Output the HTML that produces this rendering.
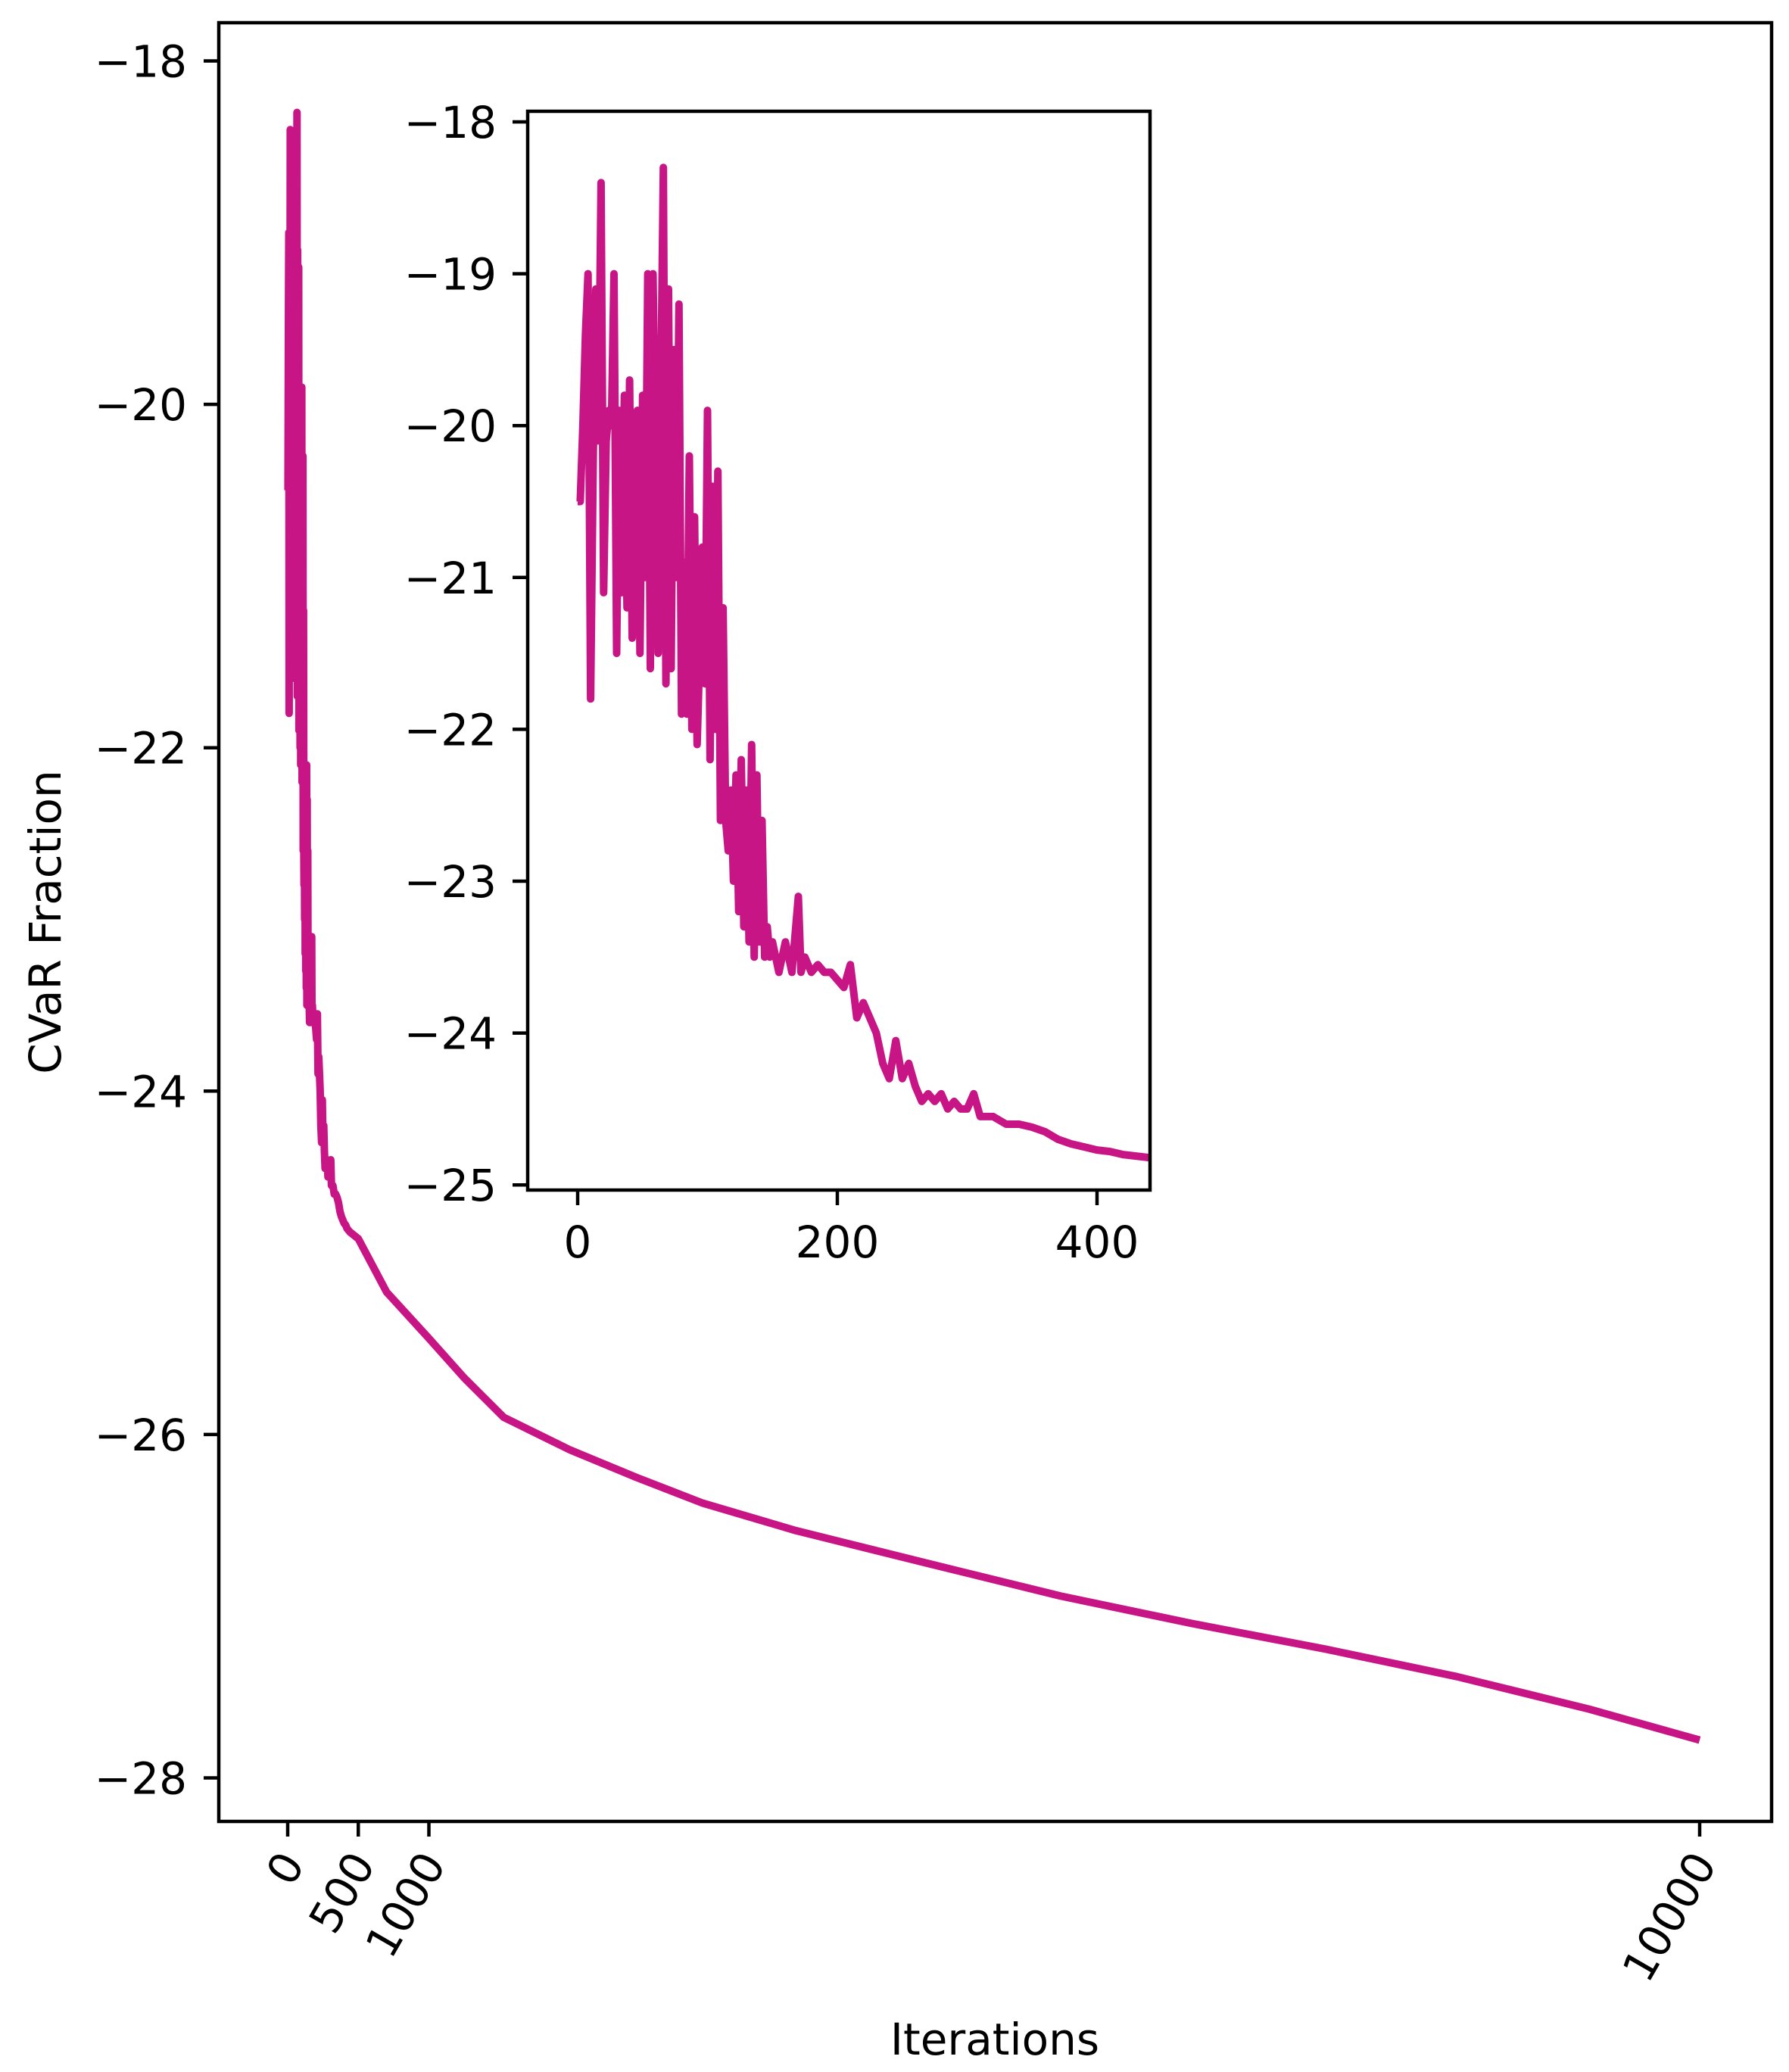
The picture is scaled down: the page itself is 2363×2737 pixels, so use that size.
<!DOCTYPE html>
<html><head><meta charset="utf-8"><style>
html,body{margin:0;padding:0;background:#fff;}
svg text{font-family:"DejaVu Sans","Liberation Sans",sans-serif;font-size:58px;fill:#000;}
</style></head><body>
<svg id="chart" width="2363" height="2732" viewBox="0 0 2363 2732" xmlns="http://www.w3.org/2000/svg">
<defs><clipPath id="mainClip"><rect x="289" y="30" width="2051" height="2376"/></clipPath>
<clipPath id="insetClip"><rect x="697" y="147" width="822" height="1425"/></clipPath></defs>
<g id="main"></g>
<g id="inset"></g>
<text transform="translate(80,1218) rotate(-90)" text-anchor="middle">CVaR Fraction</text>
<text x="1314" y="2714" text-anchor="middle">Iterations</text>
</svg>
<script>
const iters = [0,2,4,6,8,10,12,14,16,18,20,22,24,26,28,30,32,34,36,38,40,42,44,46,48,50,52,54,56,58,60,62,64,66,68,70,72,74,76,78,80,82,84,86,88,90,92,94,96,98,100,102,104,106,108,110,112,114,116,118,120,122,124,126,128,130,132,134,136,138,140,142,144,146,148,150,155,160,165,170,172,175,180,185,190,195,200,205,210,215,220,225,230,235,240,245,250,255,260,265,270,275,280,285,290,295,300,305,310,320,330,340,350,360,370,380,390,400,410,420,430,440,500,700,1000,1250,1530,2000,2470,2940,3600,4530,5470,6400,7350,8280,9220,10000];
const values = [-20.5,-20.5,-20.0,-19.4,-19.0,-21.8,-20.2,-19.1,-20.1,-18.4,-21.1,-20.1,-19.9,-20.0,-19.0,-21.5,-19.9,-21.1,-19.8,-21.2,-19.7,-21.4,-20.0,-19.9,-21.5,-19.8,-21.0,-19.0,-21.6,-19.0,-20.2,-21.5,-19.8,-18.3,-21.7,-19.1,-21.6,-19.5,-21.0,-19.2,-21.9,-20.9,-21.9,-20.2,-22.0,-20.6,-22.1,-21.5,-20.8,-21.7,-19.9,-22.2,-20.4,-22.0,-20.3,-22.6,-21.2,-22.6,-22.8,-22.4,-23.0,-22.3,-23.2,-22.2,-23.3,-22.4,-23.4,-22.1,-23.5,-22.3,-23.4,-22.6,-23.5,-23.3,-23.5,-23.4,-23.6,-23.4,-23.6,-23.1,-23.6,-23.5,-23.6,-23.55,-23.6,-23.6,-23.65,-23.7,-23.55,-23.9,-23.8,-23.9,-24.0,-24.2,-24.3,-24.05,-24.3,-24.2,-24.35,-24.45,-24.4,-24.45,-24.4,-24.5,-24.45,-24.5,-24.5,-24.4,-24.55,-24.55,-24.6,-24.6,-24.62,-24.65,-24.7,-24.73,-24.75,-24.77,-24.78,-24.8,-24.81,-24.82,-24.86,-25.17,-25.44,-25.67,-25.9,-26.09,-26.25,-26.4,-26.56,-26.75,-26.94,-27.1,-27.25,-27.41,-27.6,-27.78];
const mainYTicks = [-18,-20,-22,-24,-26,-28];
const mainXTicks = [0,500,1000,10000];
const insetYTicks = [-18,-19,-20,-21,-22,-23,-24,-25];
const insetXTicks = [0,200,400];
const NS = 'http://www.w3.org/2000/svg';
const COLOR = '#c71585';
function mk(tag, attrs, parent){const e=document.createElementNS(NS,tag);for(const k in attrs)e.setAttribute(k,attrs[k]);parent.appendChild(e);return e;}
function fmt(v){return v<0?'\u2212'+Math.abs(v):String(v);}

const mx = v => 380 + (v-0)*(2245-380)/10000;
const my = v => 80.5 + (-18 - v)*226.8;
const gm = document.getElementById('main');
let d = iters.map((t,i)=>(i?'L':'M')+mx(t).toFixed(1)+','+my(values[i]).toFixed(1)).join(' ');
const ml = mk('path',{d:d,fill:'none',stroke:COLOR,'stroke-width':10,'stroke-linejoin':'round','clip-path':'url(#mainClip)'},gm);


const mf = mk('rect',{x:289,y:30,width:2051,height:2376,fill:'none',stroke:'#000','stroke-width':4.5},gm);


mainYTicks.forEach(v=>{
  const y=my(v);
  const t=mk('line',{x1:269,x2:289,y1:y,y2:y,stroke:'#000','stroke-width':4.5},gm);
  
  
  const l=mk('text',{x:247,y:y+21,'text-anchor':'end'},gm);l.textContent=fmt(v);
  
  
});
mainXTicks.forEach(v=>{
  const x=mx(v);
  const t=mk('line',{x1:x,x2:x,y1:2406,y2:2426,stroke:'#000','stroke-width':4.5},gm);
  
  
  const l=mk('text',{transform:'translate('+(x+6)+',2452) rotate(-60)','text-anchor':'end',dy:'0.35em'},gm);l.textContent=String(v);
  
  
});

const ix = v => 763 + v*(1449-763)/400;
const iy = v => 161 + (-18 - v)*200.6;
const gi = document.getElementById('inset');
mk('rect',{x:697,y:147,width:822,height:1425,fill:'#fff'},gi);
d = iters.filter(t=>t<=460).map((t,i)=>(i?'L':'M')+ix(t).toFixed(1)+','+iy(values[i]).toFixed(1)).join(' ');
const il = mk('path',{d:d,fill:'none',stroke:COLOR,'stroke-width':10,'stroke-linejoin':'round','clip-path':'url(#insetClip)'},gi);


const inf = mk('rect',{x:697,y:147,width:822,height:1425,fill:'none',stroke:'#000','stroke-width':4.5},gi);


insetYTicks.forEach(v=>{
  const y=iy(v);
  const t=mk('line',{x1:677,x2:697,y1:y,y2:y,stroke:'#000','stroke-width':4.5},gi);
  
  
  const l=mk('text',{x:656,y:y+21,'text-anchor':'end'},gi);l.textContent=fmt(v);
  
  
});
insetXTicks.forEach(v=>{
  const x=ix(v);
  const t=mk('line',{x1:x,x2:x,y1:1572,y2:1592,stroke:'#000','stroke-width':4.5},gi);
  
  
  const l=mk('text',{x:x,y:1661,'text-anchor':'middle'},gi);l.textContent=String(v);
  
  
});
</script>
</body></html>
